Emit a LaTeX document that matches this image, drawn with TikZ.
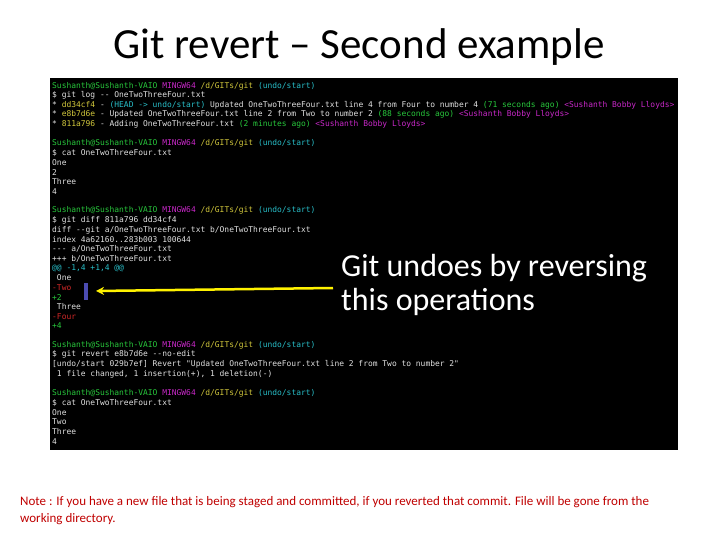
\documentclass[tikz,border=0pt]{standalone}
\usepackage{fontspec}
\usepackage{xcolor}
\usetikzlibrary{arrows.meta}
\setmainfont{Carlito}
\newfontfamily\term{DejaVu Sans Mono}
\definecolor{pg}{RGB}{40,200,60}
\definecolor{pm}{RGB}{200,40,200}
\definecolor{py}{RGB}{210,200,60}
\definecolor{pc}{RGB}{40,190,200}
\definecolor{pr}{RGB}{210,40,40}
\definecolor{tw}{RGB}{225,225,225}
\definecolor{notered}{RGB}{192,0,0}
\newcommand{\prompt}{\textcolor{pg}{Sushanth@Sushanth-VAIO} \textcolor{pm}{MINGW64} \textcolor{py}{/d/GITs/git} \textcolor{pc}{(undo/start)}}
\begin{document}
\begin{tikzpicture}[x=1pt,y=-1pt,
  tl/.style={anchor=west,inner sep=0pt,text=tw,font=\term\fontsize{7.95}{8}\selectfont},
  big/.style={anchor=west,inner sep=0pt,text=white,font=\fontsize{32}{36}\selectfont}]
\useasboundingbox (0,0) rectangle (720,540);
\fill[white] (0,0) rectangle (720,540);
\node[inner sep=0pt,font=\fontsize{43}{48}\selectfont] (title) at (359,47) {Git revert – Second example};
\fill[black] (50,78) rectangle (678,450);
\def\L#1#2{\node[tl] (l#1) at (52,{86+9.6*#1}) {#2};}
\L{0}{\prompt}
\L{1}{\$ git log -- OneTwoThreeFour.txt}
\L{2}{* \textcolor{py}{dd34cf4} - \textcolor{pc}{(HEAD -> undo/start)} Updated OneTwoThreeFour.txt line 4 from Four to number 4 \textcolor{pg}{(71 seconds ago)} \textcolor{pm}{<Sushanth Bobby Lloyds>}}
\L{3}{* \textcolor{py}{e8b7d6e} - Updated OneTwoThreeFour.txt line 2 from Two to number 2 \textcolor{pg}{(88 seconds ago)} \textcolor{pm}{<Sushanth Bobby Lloyds>}}
\L{4}{* \textcolor{py}{811a796} - Adding OneTwoThreeFour.txt \textcolor{pg}{(2 minutes ago)} \textcolor{pm}{<Sushanth Bobby Lloyds>}}
\L{6}{\prompt}
\L{7}{\$ cat OneTwoThreeFour.txt}
\L{8}{One}
\L{9}{2}
\L{10}{Three}
\L{11}{4}
\L{13}{\prompt}
\L{14}{\$ git diff 811a796 dd34cf4}
\L{15}{diff --git a/OneTwoThreeFour.txt b/OneTwoThreeFour.txt}
\L{16}{index 4a62160..283b003 100644}
\L{17}{--- a/OneTwoThreeFour.txt}
\L{18}{+++ b/OneTwoThreeFour.txt}
\L{19}{\textcolor{pc}{@@ -1,4 +1,4 @@}}
\L{20}{\ One}
\L{21}{\textcolor{pr}{-Two}}
\L{22}{\textcolor{pg}{+2}}
\L{23}{\ Three}
\L{24}{\textcolor{pr}{-Four}}
\L{25}{\textcolor{pg}{+4}}
\L{27}{\prompt}
\L{28}{\$ git revert e8b7d6e --no-edit}
\L{29}{[undo/start 029b7ef] Revert "Updated OneTwoThreeFour.txt line 2 from Two to number 2"}
\L{30}{\ 1 file changed, 1 insertion(+), 1 deletion(-)}
\L{32}{\prompt}
\L{33}{\$ cat OneTwoThreeFour.txt}
\L{34}{One}
\L{35}{Two}
\L{36}{Three}
\L{37}{4}
\fill[blue!40!gray] (84,283) rectangle (88,300);
\node[big] (g1) at (341,268) {Git undoes by reversing};
\node[big] (g2) at (341,302) {this operations};
\coordinate (as) at (333,288);
\coordinate (ae) at (96,291);
\draw[yellow,line width=2.5pt,-{Stealth[length=8pt,width=8pt]}] (as) -- (ae);
\node[anchor=north west,inner sep=0pt,text=notered,font=\fontsize{13}{17}\selectfont,align=left] (note) at (20,496) {Note : If you have a new file that is being staged and committed, if you reverted that commit. File will be gone from the\\working directory.};
\end{tikzpicture}
\end{document}
